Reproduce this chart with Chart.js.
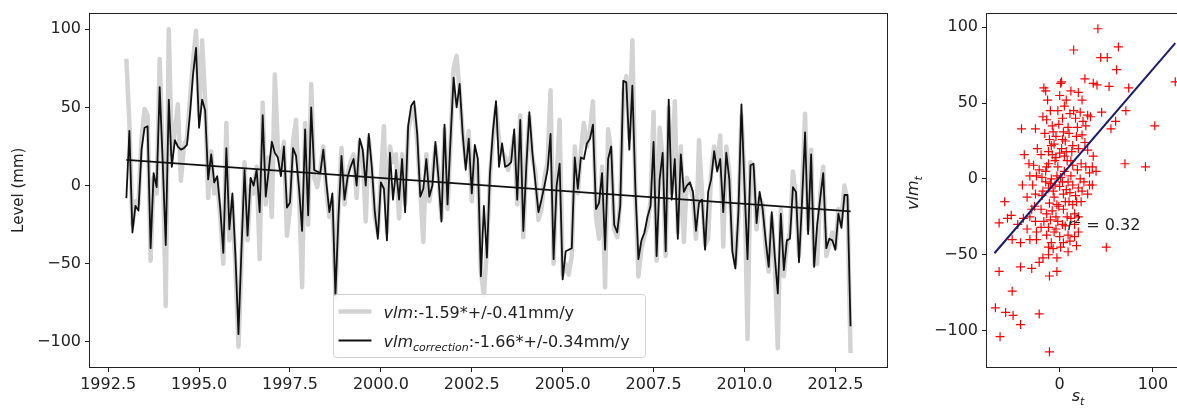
<!DOCTYPE html>
<html><head><meta charset="utf-8">
<script src="https://cdn.jsdelivr.net/npm/chart.js@4.4.1/dist/chart.umd.min.js"></script>
<style>
html,body{margin:0;padding:0;background:#fff;overflow:hidden;width:1177px;height:416px;}
#left{position:absolute;left:0;top:0;width:900px;height:416px;}
#right{position:absolute;left:900px;top:0;width:300px;height:416px;}
</style></head><body>
<div id="left"><canvas id="c1" width="900" height="416"></canvas></div>
<div id="right"><canvas id="c2" width="300" height="416"></canvas></div>
<script>
// ---------- DATA ----------
const startYear = 1993;          // first monthly sample
const monthsPerYear = 12;

// vlm (grey, thick)
const vlm = [
 81, 40, -25, -10, -12, 30, 49, 45, -48, 5, -5, 81, 20, -77, 100, 20, 35, 52, 3, 25,
 30, 55, 80, 99, 45, 93, 55, -8, 22, -5, 3, -20, -50, 40, -35, -10, -52, -103, -48, 15,
 -35, 0, -5, 12, -47, 53, -12, 18, -20, 71, 25, 10, 28, -32, -15, 28, 42, -5, -65, 40,
 -25, 65, 5, -1, 10, 25, -3, -20, -10, -72, -15, 24, -12, 8, 15, 20, -8, 28, 20, -23,
 30, 10, -20, -30, 5, 38, -30, 25, 15, 20, -21, 20, -12, 35, 45, 50, 28, -3, -36, 20,
 -10, 5, 25, 8, -21, 36, -15, 28, 75, 83, 60, 34, 15, 35, -10, 22, 12, -55, -70, -40,
 5, 30, 50, 29, 22, 18, 10, 20, 32, -12, 45, -33, 15, 44, 18, 8, -22, -15, 5, 15,
 61, -50, 5, 42, -57, -50, -57, -45, 25, -5, 22, 40, 25, 35, 54, -20, -34, 12, -65, 36,
 22, -28, -33, -10, 60, 70, 30, 93, -5, -58, -40, -32, -25, -10, 47, -48, 37, 18, -45, 50,
 -5, 54, -30, 25, -36, 5, 0, -8, -34, 29, -5, -38, -34, 8, 25, 12, 32, -39, 25, 8,
 -38, -50, -20, 45, 5, -98, 15, 10, -28, -8, -12, -40, -55, -20, -50, -104, -15, -58, -38, -30,
 9, -8, -45, -5, 46, -28, 23, -50, -50, -5, 12, -45, -38, -30, -40, -15, -22, 0, -10, -107
];

// vlm_correction (black, thin)
const vlmCorrection = [
 -8, 35, -30, -13, -16, 23, 37, 38, -40, 8, -1, 63, 15, -38, 55, 12, 29, 25, 23, 24,
 26, 46, 71, 88, 37, 55, 48, 4, 20, 2, 6, -15, -43, 24, -28, -5, -45, -95, -40, 10,
 -32, 5, 0, 10, -17, 45, -7, 10, 28, 21, 18, 6, 25, -14, -11, 24, 19, -2, -29, 36,
 -19, 50, 10, 9, 8, 23, 2, -17, -5, -70, -20, 19, -9, 5, 12, 17, 0, 30, 23, 0,
 33, 12, -17, -34, 2, -2, -35, 21, -9, 10, -9, 17, -17, 38, 51, 54, 33, -7, -2, 17,
 -7, 0, 28, 5, -23, 39, -12, 30, 69, 50, 65, 33, 10, 30, -5, 26, 17, -58, -13, -46,
 8, 35, 54, 12, 27, 12, 13, 15, 36, -9, 42, -29, 12, 47, 21, 2, -17, -9, 0, 10,
 33, -47, 0, 14, -60, -42, -41, -40, 18, -2, 18, 17, 27, 30, 39, -15, -11, 8, -41, 17,
 25, -25, -30, -13, 67, 66, 23, 64, -2, -47, -35, -30, -20, -13, 28, -45, 4, 21, -42, 55,
 -9, 17, -34, 20, -4, 0, 2, -4, -29, -11, -9, -41, -4, 4, 22, 9, 17, -17, 21, 4,
 -42, -53, -17, 52, 0, -47, 13, 14, -24, -4, -15, -35, -52, -17, -45, -69, -18, -54, -35, -34,
 -1, -4, -49, -10, 34, -31, 20, -52, -25, -8, 8, -40, -34, -35, -41, -18, -27, -6, -6, -90
];

// linear trend of vlm_correction
const trendYears = [1993.0, 2012.92];
const trendValues = [16.5, -16.5];

const xTicksLeft = [1992.5, 1995, 1997.5, 2000, 2002.5, 2005, 2007.5, 2010, 2012.5];
const yTicksLeft = [-100, -50, 0, 50, 100];
const yTitleLeft = 'Level (mm)';

const legendNames = ['vlm', 'vlm'];
const legendSubs = ['', 'correction'];
const legendRates = [':-1.59*+/-0.41mm/y', ':-1.66*+/-0.34mm/y'];

// scatter: s_t vs vlm_t
const scatterS = [
 41, 15, 63, 44, 51, 61, 27, 36, 40, 53, 74, 124, -17, -15, 1, 2, 12, 20, 0, 24,
 45, 71, -18, -14, 11, 30, 33, 60, 55, 102, -41, -26, -7, 4, 9, 19, -11, -6, 24, -38,
 -20, -8, 0, 5, 30, 36, -33, -28, -12, -2, 14, 23, 70, 92, -32, -25, -19, -9, 1, 12,
 32, 39, -40, -29, -12, -5, 7, 20, 32, 35, -26, -19, 4, 11, 17, -11, -3, 18, 23, -59,
 -8, 4, 14, -65, -56, -52, -39, -32, -26, -14, -4, 16, 20, -35, -25, -12, -4, 6, -14, 0,
 9, -51, -42, -32, -25, -9, 4, 11, 18, 50, -18, -12, -3, -42, -30, -22, -11, -3, -65, -51,
 -69, -58, -50, -42, -22, -64, -11,
 -15, -10, -5, 2, 6, 10, -2, 8, 14, -8, 3, 18, 25, -12, -6, 0, 5, 9, -3, 12,
 16, -18, 22, 28, -24, -20, 7, 1, -10, 15, 20, -4, -1, 10, 26, -14,
 -2, 5, 22, 28, -16, -9, 3, 13, 27, -12, -4, 8, 19, -22, -15, 3, 14, 24, -7, -27,
 -17, 6, 12, -6, 3, 16, -20, -30, -10, 9, -7, 20, 30, 35, -1, 7, -13, 17, -35, -45
];
const scatterVlm = [
 99, 85, 87, 80, 80, 72, 66, 63, 62, 61, 60, 64, 60, 58, 63, 64, 58, 57, 55, 52,
 44, 45, 41, 39, 43, 42, 41, 38, 33, 35, 33, 33, 31, 31, 34, 34, 26, 23, 29, 16,
 16, 16, 17, 15, 19, 15, 10, 9, 10, 8, 9, 10, 10, 8, 2, 2, 1, 0, 1, 2,
 4, 5, -4, -4, -6, -4, -7, -6, -4, -4, -10, -11, -10, -9, -11, -16, -17, -15, -15, -15,
 -21, -20, -17, -29, -26, -24, -26, -25, -28, -23, -25, -23, -25, -33, -35, -32, -33, -31, -37, -38,
 -37, -40, -42, -40, -40, -42, -42, -41, -44, -45, -52, -50, -52, -58, -59, -55, -64, -61, -61, -74,
 -85, -88, -90, -96, -89, -104, -114,
 5, -3, 12, 20, 25, -15, -28, -25, 22, 35, 40, 28, 38, -45, -12, -5, 5, -2, 2, 12,
 -30, -8, 0, 8, 20, -20, 18, -45, 45, 45, 20, 28, -18, 30, -2, 8,
 45, 48, 44, 35, 30, 22, 26, 18, 24, 18, 14, 12, 6, 6, -2, -2, -4, -8, -8, -18,
 -28, -15, -26, -35, -30, -38, -32, -20, -27, -48, -46, -35, -10, 8, 36, 52, 52, 40, -12, -30
];

// regression line
const fitS = [-70, 124];
const fitVlm = [-49, 89.5];
const xTicksRight = [0, 100];
const yTicksRight = [-100, -50, 0, 50, 100];
const rSquaredLabel = ' = 0.32';
const rSquaredAt = {s: 8.5, v: -34};

// ---------- HELPERS ----------
const FONT = "'DejaVu Sans'";
const TXT = '#222';
function fmt(v, d) { const s = Math.abs(v).toFixed(d); return (v < 0 ? '\u2212' : '') + s; }
function drawSegs(ctx, x, y, segs) {
  for (const s of segs) { ctx.font = s.font; ctx.fillText(s.text, x, y + (s.dy || 0)); x += ctx.measureText(s.text).width; }
  return x;
}
function segsWidth(ctx, segs) {
  let w = 0; for (const s of segs) { ctx.font = s.font; w += ctx.measureText(s.text).width; } return w;
}
const framePlugin = {
  id: 'frame',
  afterDatasetsDraw(chart) {
    const {ctx, chartArea: a} = chart;
    ctx.save(); ctx.strokeStyle = '#222'; ctx.lineWidth = 1;
    ctx.strokeRect(Math.round(a.left) - 0.5, Math.round(a.top) - 0.5, Math.round(a.right - a.left) + 1, Math.round(a.bottom - a.top) + 1);
    ctx.restore();
  }
};
function tickGrid() { return {display: true, drawOnChartArea: false, drawTicks: true, tickLength: 5, color: '#222', lineWidth: 1}; }

// ---------- LEFT CHART ----------
const seriesVlm = vlm.map((v, i) => ({x: startYear + i / monthsPerYear, y: v}));
const seriesCorr = vlmCorrection.map((v, i) => ({x: startYear + i / monthsPerYear, y: v}));
const seriesTrend = trendYears.map((t, i) => ({x: t, y: trendValues[i]}));

const legendPlugin = {
  id: 'mplLegend',
  afterDraw(chart) {
    const {ctx, chartArea: a} = chart;
    const bx = a.left + 243.5, by = a.bottom - 72.5, bw = 312, bh = 63;
    ctx.save();
    ctx.fillStyle = 'rgba(255,255,255,0.85)'; ctx.strokeStyle = '#d0d0d0'; ctx.lineWidth = 1;
    ctx.beginPath(); ctx.roundRect(bx, by, bw, bh, 3); ctx.fill(); ctx.stroke();
    const handles = [{c: '#d3d3d3', w: 4.5}, {c: '#111', w: 1.8}];
    const ys = [17, 46];
    ctx.fillStyle = TXT; ctx.textBaseline = 'alphabetic';
    for (let k = 0; k < 2; k++) {
      const cy = by + ys[k];
      ctx.strokeStyle = handles[k].c; ctx.lineWidth = handles[k].w; ctx.lineCap = 'butt';
      ctx.beginPath(); ctx.moveTo(bx + 5, cy); ctx.lineTo(bx + 38, cy); ctx.stroke();
      const segs = [{text: legendNames[k], font: 'italic 16px ' + FONT}];
      if (legendSubs[k]) segs.push({text: legendSubs[k], font: 'italic 11px ' + FONT, dy: 4});
      segs.push({text: legendRates[k], font: '16px ' + FONT});
      drawSegs(ctx, bx + 50, cy + 6, segs);
    }
    ctx.restore();
  }
};

new Chart(document.getElementById('c1'), {
  type: 'scatter',
  data: {datasets: [
    {data: seriesVlm, showLine: true, borderColor: '#d3d3d3', borderWidth: 4.5, pointRadius: 0, order: 3},
    {data: seriesCorr, showLine: true, borderColor: '#111', borderWidth: 1.8, pointRadius: 0, order: 2},
    {data: seriesTrend, showLine: true, borderColor: '#111', borderWidth: 1.8, pointRadius: 0, order: 1}
  ]},
  options: {
    responsive: false, animation: false, devicePixelRatio: 1,
    layout: {padding: {top: 8, right: 13, left: 0, bottom: 0}},
    plugins: {legend: {display: false}, tooltip: {enabled: false}},
    elements: {line: {tension: 0, borderJoinStyle: 'round', borderCapStyle: 'butt'}},
    scales: {
      x: {type: 'linear', min: 1992.0, max: 2013.92,
        afterBuildTicks: s => { s.ticks = xTicksLeft.map(v => ({value: v})); },
        afterFit: s => { s.height = 49; },
        grid: tickGrid(), border: {display: false},
        ticks: {padding: 3, color: TXT, font: {family: FONT, size: 16}, maxRotation: 0, autoSkip: false, callback: v => fmt(v, 1)}},
      y: {type: 'linear', min: -116, max: 110,
        afterBuildTicks: s => { s.ticks = yTicksLeft.map(v => ({value: v})); },
        afterFit: s => { s.width = 90; },
        grid: tickGrid(), border: {display: false},
        title: {display: true, text: yTitleLeft, color: TXT, font: {family: FONT, size: 15}, padding: {top: 10, bottom: 0}},
        ticks: {padding: 4, color: TXT, font: {family: FONT, size: 16}, autoSkip: false, callback: v => fmt(v, 0)}}
    }
  },
  plugins: [framePlugin, legendPlugin]
});

// ---------- RIGHT CHART ----------
const scatterPts = scatterS.map((s, i) => ({x: s, y: scatterVlm[i]}));
const fitPts = fitS.map((s, i) => ({x: s, y: fitVlm[i]}));

const rightText = {
  id: 'rightText',
  afterDraw(chart) {
    const {ctx, chartArea: a, scales} = chart;
    ctx.save(); ctx.fillStyle = TXT; ctx.textBaseline = 'alphabetic';
    // r^2 annotation
    const px = scales.x.getPixelForValue(rSquaredAt.s), py = scales.y.getPixelForValue(rSquaredAt.v);
    drawSegs(ctx, px, py, [
      {text: 'r', font: 'italic 16px ' + FONT},
      {text: '2', font: '11px ' + FONT, dy: -7},
      {text: rSquaredLabel, font: '16px ' + FONT}
    ]);
    // x title s_t
    const xs = [{text: 's', font: 'italic 16px ' + FONT}, {text: 't', font: 'italic 11px ' + FONT, dy: 4}];
    const xw = segsWidth(ctx, xs);
    drawSegs(ctx, a.left + 91 - xw / 2, a.bottom + 34, xs);
    // y title vlm_t
    const ysg = [{text: 'vlm', font: 'italic 16px ' + FONT}, {text: 't', font: 'italic 11px ' + FONT, dy: 4}];
    const yw = segsWidth(ctx, ysg);
    ctx.translate(a.left - 69, 193); ctx.rotate(-Math.PI / 2);
    drawSegs(ctx, -yw / 2, 0, ysg);
    ctx.restore();
  }
};

new Chart(document.getElementById('c2'), {
  type: 'scatter',
  data: {datasets: [
    {data: fitPts, showLine: true, borderColor: '#1c1c6e', borderWidth: 2, pointRadius: 0, order: 1},
    {data: scatterPts, pointStyle: 'cross', pointRadius: 4.5, borderColor: '#ff0000', backgroundColor: '#ff0000', borderWidth: 1.2, order: 2}
  ]},
  options: {
    responsive: false, animation: false, devicePixelRatio: 1,
    layout: {padding: {top: 8, right: 21, left: 0, bottom: 0}},
    plugins: {legend: {display: false}, tooltip: {enabled: false}},
    scales: {
      x: {type: 'linear', min: -78, max: 128,
        afterBuildTicks: s => { s.ticks = xTicksRight.map(v => ({value: v})); },
        afterFit: s => { s.height = 49; },
        grid: tickGrid(), border: {display: false},
        ticks: {padding: 3, color: TXT, font: {family: FONT, size: 16}, maxRotation: 0, autoSkip: false, callback: v => fmt(v, 0)}},
      y: {type: 'linear', min: -124, max: 109,
        afterBuildTicks: s => { s.ticks = yTicksRight.map(v => ({value: v})); },
        afterFit: s => { s.width = 87; },
        grid: tickGrid(), border: {display: false},
        ticks: {padding: 4, color: TXT, font: {family: FONT, size: 16}, autoSkip: false, callback: v => fmt(v, 0)}}
    }
  },
  plugins: [framePlugin, rightText]
});
</script>
</body></html>
